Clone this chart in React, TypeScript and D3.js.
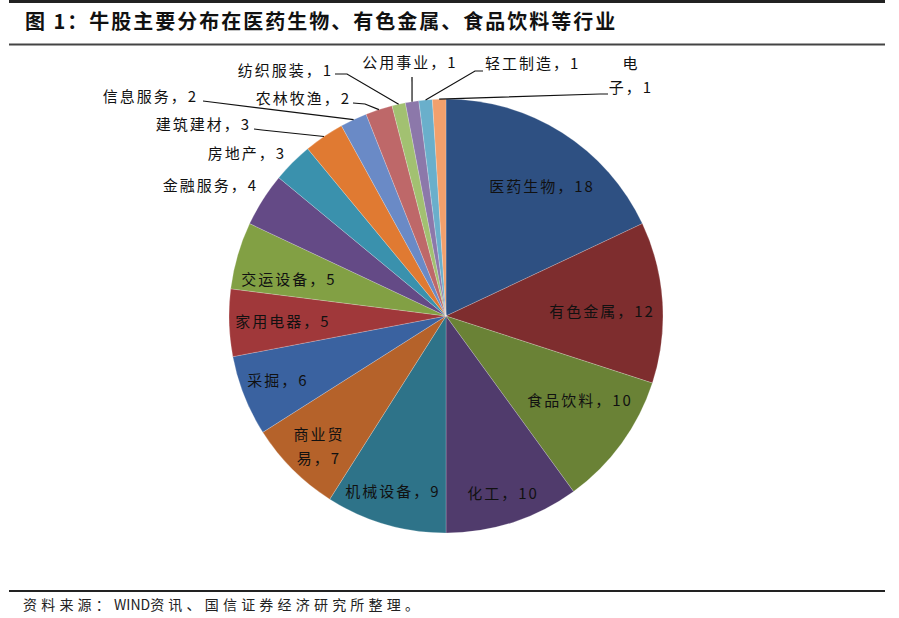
import * as d3 from "d3";
import React, { useEffect, useRef } from "react";

const categories = [
  "医药生物", "有色金属", "食品饮料", "化工", "机械设备", "商业贸易",
  "采掘", "家用电器", "交运设备", "金融服务", "房地产", "建筑建材",
  "信息服务", "农林牧渔", "纺织服装", "公用事业", "轻工制造", "电子",
];
const values = [18, 12, 10, 10, 9, 7, 6, 5, 5, 4, 3, 3, 2, 2, 1, 1, 1, 1];

const sliceColors = [
  "#2E5082", "#7E2D2E", "#6A8236", "#503B6C", "#2E7389", "#B5622A",
  "#3A62A0", "#A0383A", "#82A044", "#644A86", "#3A91AD", "#E07A32",
  "#6A8AC6", "#BE6869", "#A2C171", "#8C78AA", "#6AAFCB", "#F2A06C",
];

const TITLE = "图 1：牛股主要分布在医药生物、有色金属、食品饮料等行业";
const SOURCE_PARTS = ["资料来源：", "WIND", "资讯、国信证券经济研究所整理。"];

// label placement relative to pie centre: [dx, dy, anchor, wrapAt]
const labelLayout: Record<string, [number, number, string, number?]> = {
  医药生物: [96, -128, "middle"],
  有色金属: [156, -3, "middle"],
  食品饮料: [134, 86, "middle"],
  化工: [57, 179, "middle"],
  机械设备: [-53, 177, "middle"],
  商业贸易: [-127, 132, "middle", 3],
  采掘: [-168, 66, "middle"],
  家用电器: [-163, 7, "middle"],
  交运设备: [-157, -35, "middle"],
  金融服务: [-188, -129, "end"],
  房地产: [-160, -161, "end"],
  建筑建材: [-195, -190, "end"],
  信息服务: [-248, -218, "end"],
  农林牧渔: [-95, -216, "end"],
  纺织服装: [-113, -244, "end"],
  公用事业: [-36, -252, "middle"],
  轻工制造: [39, -251, "start"],
  电子: [185, -239, "middle", 1],
};

// leader line start + elbow relative to centre
const leaders: Record<string, [number, number, number, number]> = {
  建筑建材: [-192, -187, -184, -186],
  信息服务: [-243, -215, -235, -214],
  农林牧渔: [-93, -213, -81, -212],
  纺织服装: [-111, -242, -99, -242],
  公用事业: [-34, -239, -34, -239],
  轻工制造: [37, -245, 29, -245],
  电子: [162, -222, 154, -222],
};

const W = 899;
const H = 618;
const CX = 446;
const CY = 316;
const R = 217;
const FONT = "'Noto Sans CJK SC', 'Noto Sans', sans-serif";

export default function App() {
  const ref = useRef<SVGSVGElement | null>(null);

  useEffect(() => {
    const svg = d3.select(ref.current);
    svg.selectAll("*").remove();
    svg.attr("width", W).attr("height", H).attr("viewBox", `0 0 ${W} ${H}`);

    svg.append("rect").attr("width", W).attr("height", H).attr("fill", "#fff");

    // header / footer rules
    svg.append("line").attr("x1", 9).attr("x2", 885).attr("y1", 1.5).attr("y2", 1.5)
      .attr("stroke", "#222").attr("stroke-width", 3);
    svg.append("line").attr("x1", 9).attr("x2", 885).attr("y1", 44.5).attr("y2", 44.5)
      .attr("stroke", "#444").attr("stroke-width", 2);
    svg.append("line").attr("x1", 9).attr("x2", 885).attr("y1", 591).attr("y2", 591)
      .attr("stroke", "#222").attr("stroke-width", 2);

    svg.append("text").attr("x", 25).attr("y", 24)
      .attr("dominant-baseline", "middle")
      .attr("font-family", FONT).attr("font-size", 20).attr("font-weight", 700)
      .attr("letter-spacing", 2).attr("fill", "#111")
      .text(TITLE);

    const src = svg.append("text").attr("x", 23).attr("y", 606)
      .attr("dominant-baseline", "middle")
      .attr("font-family", FONT).attr("font-size", 14).attr("fill", "#222");
    SOURCE_PARTS.forEach((p, i) => {
      src.append("tspan")
        .attr("letter-spacing", i === 1 ? 0 : 4.2)
        .text(p);
    });

    const data = categories.map((c, i) => ({ name: c, value: values[i], color: sliceColors[i] }));

    const pie = d3.pie<any>().sort(null).value((d) => d.value);
    const arcs = pie(data);
    const arc = d3.arc<any>().innerRadius(0).outerRadius(R);
    const rim = d3.arc<any>().innerRadius(R).outerRadius(R);

    const g = svg.append("g").attr("transform", `translate(${CX},${CY})`);

    g.selectAll("path")
      .data(arcs)
      .enter()
      .append("path")
      .attr("d", arc as any)
      .attr("fill", (d) => d.data.color)
      .attr("stroke", "#ffffff")
      .attr("stroke-opacity", 0.35)
      .attr("stroke-width", 0.6);

    // leader lines
    arcs.forEach((a) => {
      const l = leaders[a.data.name];
      if (!l) return;
      const [ex, ey] = rim.centroid(a);
      g.append("path")
        .attr("d", d3.line()([[l[0], l[1]], [l[2], l[3]], [ex, ey]]))
        .attr("fill", "none")
        .attr("stroke", "#111")
        .attr("stroke-width", 1.2);
    });

    // labels
    arcs.forEach((a) => {
      const lay = labelLayout[a.data.name];
      if (!lay) return;
      const [dx, dy, anchor, wrap] = lay;
      const full = `${a.data.name}，${a.data.value}`;
      const lines = wrap ? [full.slice(0, wrap), full.slice(wrap)] : [full];
      const t = g.append("text")
        .attr("x", dx).attr("y", dy)
        .attr("text-anchor", anchor)
        .attr("font-family", FONT).attr("font-size", 15)
        .attr("letter-spacing", 2).attr("fill", "#111");
      lines.forEach((ln, i) => {
        t.append("tspan")
          .attr("x", dx)
          .attr("y", dy + (i - (lines.length - 1) / 2) * 24)
          .attr("dominant-baseline", "middle")
          .text(ln);
      });
    });
  }, []);

  return <svg ref={ref} style={{ position: "absolute", left: 0, top: 0 }} />;
}
